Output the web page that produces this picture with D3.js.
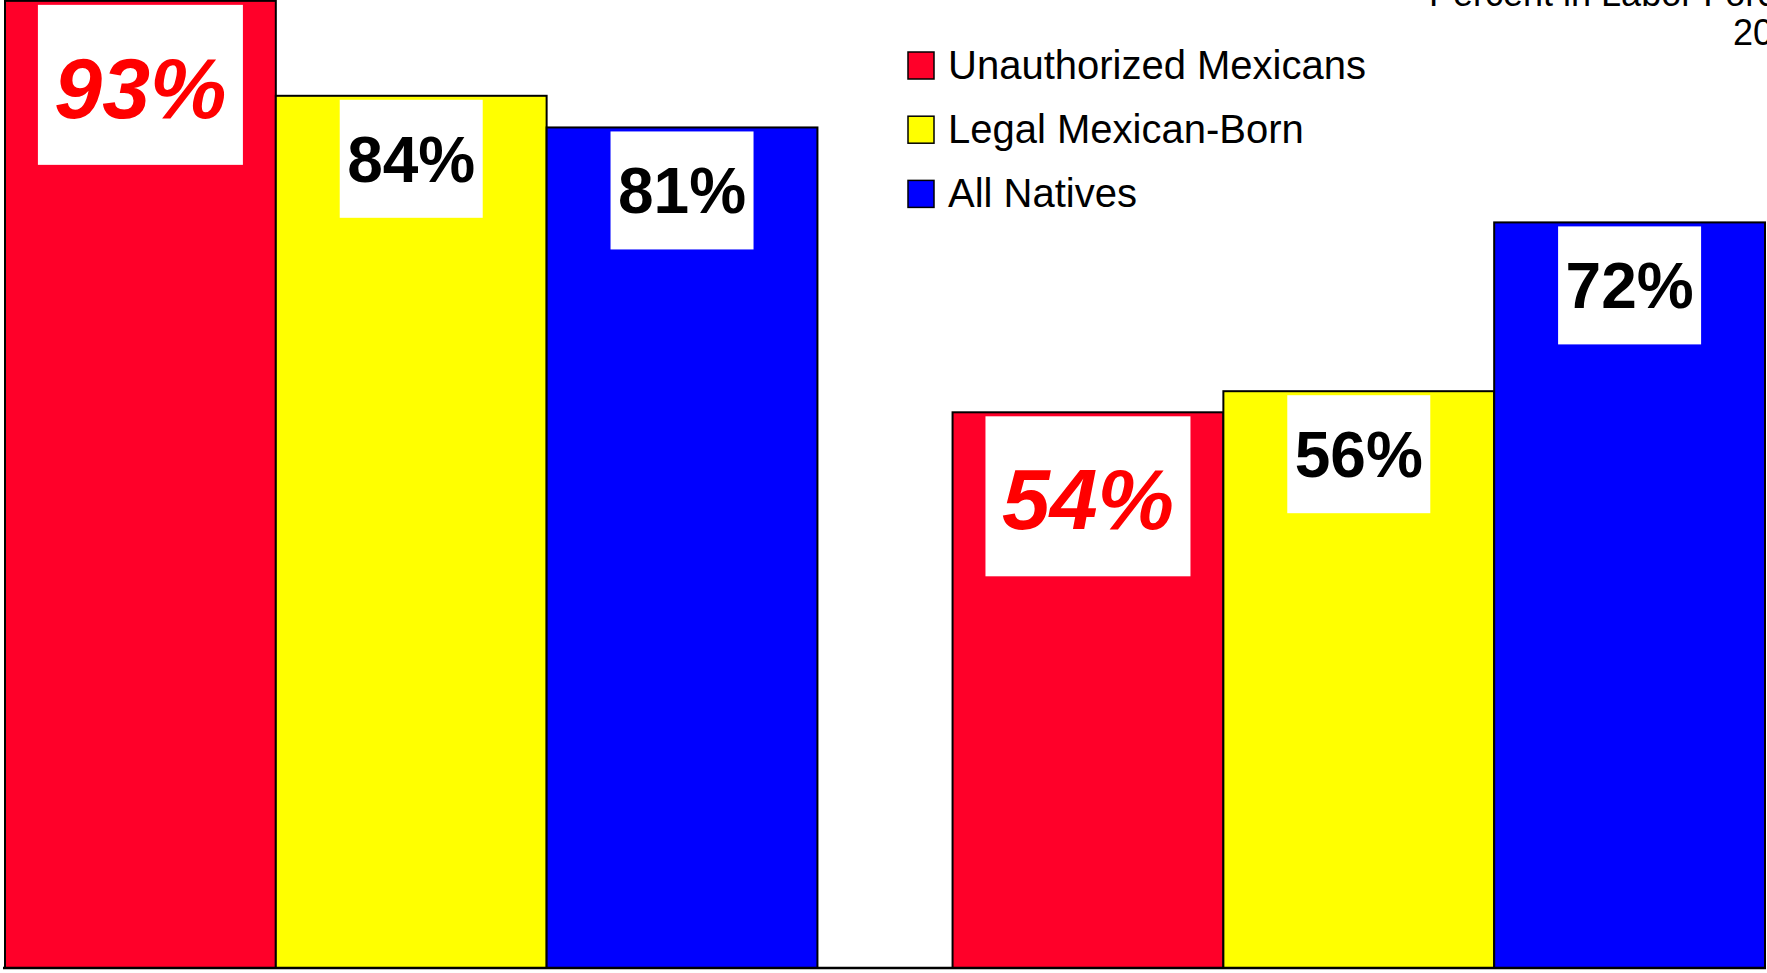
<!DOCTYPE html>
<html>
<head>
<meta charset="utf-8">
<script src="https://cdn.jsdelivr.net/npm/d3@7"></script>
<style>
  html, body { margin: 0; padding: 0; background: #ffffff; overflow: hidden; }
  svg { display: block; font-family: "Liberation Sans", Arial, sans-serif; }
</style>
</head>
<body>
<svg id="chart" width="1767" height="973"></svg>
<script>
// ---- data ----
const groups = ["Men", "Women"];
const series = ["Unauthorized Mexicans", "Legal Mexican-Born", "All Natives"];
const unauthorizedValues = [93, 54];
const legalValues = [84, 56];
const nativeValues = [81, 72];
const titleLines = ["Percent in Labor Force", "2000"];

const seriesValues = [unauthorizedValues, legalValues, nativeValues];
const colors = ["#ff0029", "#ffff00", "#0000ff"];

// ---- layout ----
const baseY = 968;
const svg = d3.select("#chart");

const y = d3.scaleLinear().domain([0, 100]).range([982, -73]);
const x0 = d3.scaleBand().domain(groups).range([5, 1765]).paddingInner(0.1426).paddingOuter(0);
const x1 = d3.scaleBand().domain(series).range([0, x0.bandwidth()]);
const color = d3.scaleOrdinal().domain(series).range(colors);

const rows = [];
groups.forEach((g, gi) => {
  series.forEach((s, si) => {
    rows.push({ group: g, series: s, si: si, value: seriesValues[si][gi] });
  });
});

// bars
svg.append("g").selectAll("rect.bar")
  .data(rows)
  .join("rect")
  .attr("class", "bar")
  .attr("x", d => x0(d.group) + x1(d.series))
  .attr("y", d => y(d.value))
  .attr("width", x1.bandwidth())
  .attr("height", d => baseY - y(d.value))
  .attr("fill", d => color(d.series))
  .attr("stroke", "#000")
  .attr("stroke-width", 2);

// baseline
svg.append("line")
  .attr("x1", 3).attr("x2", 1766)
  .attr("y1", baseY).attr("y2", baseY)
  .attr("stroke", "#000").attr("stroke-width", 2.5);

// value labels in white boxes
const fmt = v => d3.format(".0f")(v) + "%";
svg.append("g").selectAll("g.lab")
  .data(rows)
  .join("g")
  .attr("class", "lab")
  .each(function(d) {
    const emph = d.si === 0;
    const bw = emph ? 205 : 143;
    const bh = emph ? 160 : 118;
    const cx = x0(d.group) + x1(d.series) + x1.bandwidth() / 2;
    const top = y(d.value) + 4;
    const g = d3.select(this);
    g.append("rect")
      .attr("x", cx - bw / 2).attr("y", top)
      .attr("width", bw).attr("height", bh)
      .attr("fill", "#fff");
    g.append("text")
      .attr("x", cx)
      .attr("y", top + bh / 2 + (emph ? 2 : 0))
      .attr("dy", "0.36em")
      .attr("text-anchor", "middle")
      .attr("font-weight", "bold")
      .attr("font-style", emph ? "italic" : "normal")
      .attr("font-size", emph ? 86 : 64)
      .attr("fill", emph ? "#ff0000" : "#000")
      .text(fmt(d.value));
  });

// legend
const leg = svg.append("g").attr("transform", "translate(908,52)");
const li = leg.selectAll("g").data(series).join("g")
  .attr("transform", (d, i) => `translate(0,${i * 64.2})`);
li.append("rect")
  .attr("width", 26).attr("height", 27)
  .attr("fill", d => color(d))
  .attr("stroke", "#000").attr("stroke-width", 1.5);
li.append("text")
  .attr("x", 40).attr("y", 27)
  .attr("font-size", 40)
  .attr("fill", "#000")
  .text(d => d);

// title (cropped at the top-right corner, as in the reference)
svg.append("text").attr("x", 1429).attr("y", 6)
  .attr("font-size", 36).attr("fill", "#000").text(titleLines[0]);
svg.append("text").attr("x", 1733).attr("y", 45)
  .attr("font-size", 36).attr("fill", "#000").text(titleLines[1]);
</script>
</body>
</html>
